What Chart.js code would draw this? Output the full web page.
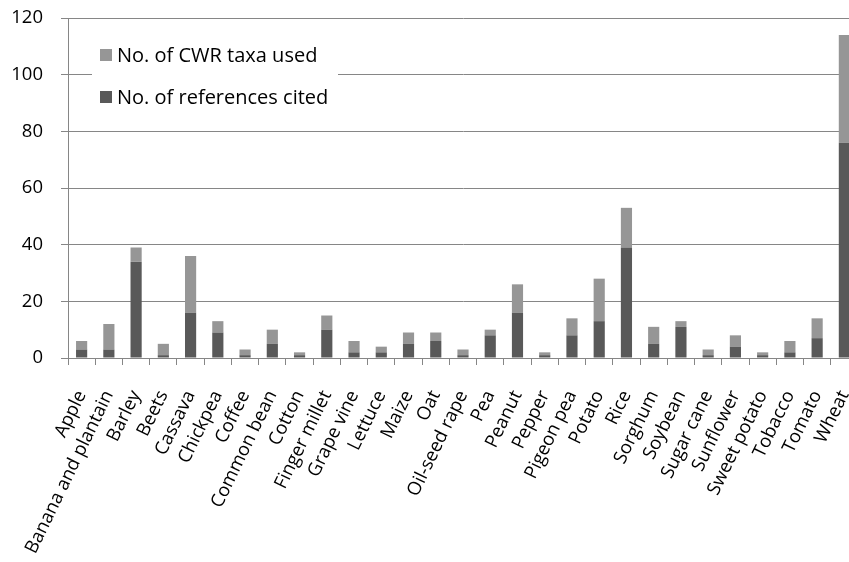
<!DOCTYPE html>
<html>
<head>
<meta charset="utf-8">
<script src="https://cdn.jsdelivr.net/npm/chart.js@4/dist/chart.umd.min.js"></script>
<style>
    html, body { margin: 0; padding: 0; background: #fff; overflow: hidden; }
    #wrap { width: 858px; height: 562px; }
</style>
</head>
<body>
<div id="wrap"><canvas id="chart"></canvas></div>
<script>
const crops = ['Apple', 'Banana and plantain', 'Barley', 'Beets', 'Cassava', 'Chickpea', 'Coffee',
    'Common bean', 'Cotton', 'Finger millet', 'Grape vine', 'Lettuce', 'Maize', 'Oat', 'Oil-seed rape',
    'Pea', 'Peanut', 'Pepper', 'Pigeon pea', 'Potato', 'Rice', 'Sorghum', 'Soybean', 'Sugar cane',
    'Sunflower', 'Sweet potato', 'Tobacco', 'Tomato', 'Wheat'];

// dark lower part of each column
const refsCited = [3, 3, 34, 1, 16, 9, 1, 5, 1, 10, 2, 2, 5, 6, 1, 8, 16, 1, 8, 13, 39, 5, 11, 1, 4, 1, 2, 7, 76];
// light part stacked on top
const taxaUsed = [3, 9, 5, 4, 20, 4, 2, 5, 1, 5, 4, 2, 4, 3, 2, 2, 10, 1, 6, 15, 14, 6, 2, 2, 4, 1, 4, 7, 38];

const yTicks = [0, 20, 40, 60, 80, 100, 120];

const darkGrey = '#595959';
const lightGrey = '#969696';
const lineGrey = '#868686';
const fontFamily = '"Open Sans", sans-serif';

// legend sits inside the plot on a white box, like the Excel original
const boxLegend = {
    id: 'boxLegend',
    afterDraw(chart) {
        const ctx = chart.ctx;
        const left = chart.chartArea.left;
        ctx.save();
        ctx.fillStyle = '#fff';
        ctx.fillRect(left + 24, 30, 246, 90);
        ctx.font = '20px ' + fontFamily;
        ctx.textBaseline = 'middle';
        let items = [chart.data.datasets[1], chart.data.datasets[0]];
        items.forEach((ds, i) => {
            let cy = 55 + i * 42;
            ctx.fillStyle = ds.backgroundColor;
            ctx.fillRect(left + 32, cy - 6, 12, 12);
            ctx.fillStyle = '#000';
            ctx.fillText(ds.label, left + 49, cy + 1);
        });
        ctx.restore();
    }
};

const ctx = document.getElementById('chart');

const chart = new Chart(ctx, {
    type: 'bar',
    data: {
        labels: crops,
        datasets: [{
            label: 'No. of references cited',
            data: refsCited,
            backgroundColor: darkGrey,
            barPercentage: 0.41,
            categoryPercentage: 1
        }, {
            label: 'No. of CWR taxa used',
            data: taxaUsed,
            backgroundColor: lightGrey,
            barPercentage: 0.41,
            categoryPercentage: 1
        }]
    },
    options: {
        responsive: true,
        maintainAspectRatio: false,
        animation: false,
        layout: { padding: { top: 18, right: 0, bottom: 0, left: 0 } },
        plugins: {
            legend: { display: false },
            tooltip: { enabled: false }
        },
        scales: {
            x: {
                stacked: true,
                grid: {
                    display: true,
                    drawOnChartArea: false,
                    drawTicks: true,
                    tickLength: 7,
                    color: lineGrey
                },
                border: { display: true, color: lineGrey },
                ticks: {
                    color: '#000',
                    font: { family: fontFamily, size: 18.5 },
                    minRotation: 64,
                    maxRotation: 64,
                    autoSkip: false,
                    padding: 22
                },
                afterFit(scale) {
                    scale.height = 204;
                    scale.paddingLeft = 0;
                    scale.paddingRight = 0;
                }
            },
            y: {
                stacked: true,
                min: 0,
                max: 120,
                afterBuildTicks(scale) { scale.ticks = yTicks.map(v => ({ value: v })); },
                grid: {
                    color: lineGrey,
                    tickLength: 7
                },
                border: { display: true, color: lineGrey },
                ticks: {
                    color: '#000',
                    font: { family: fontFamily, size: 18.5 },
                    padding: 18
                },
                afterFit(scale) {
                    scale.width = 68;
                    scale.paddingTop = 0;
                }
            }
        }
    },
    plugins: [boxLegend]
});
</script>
</body>
</html>
